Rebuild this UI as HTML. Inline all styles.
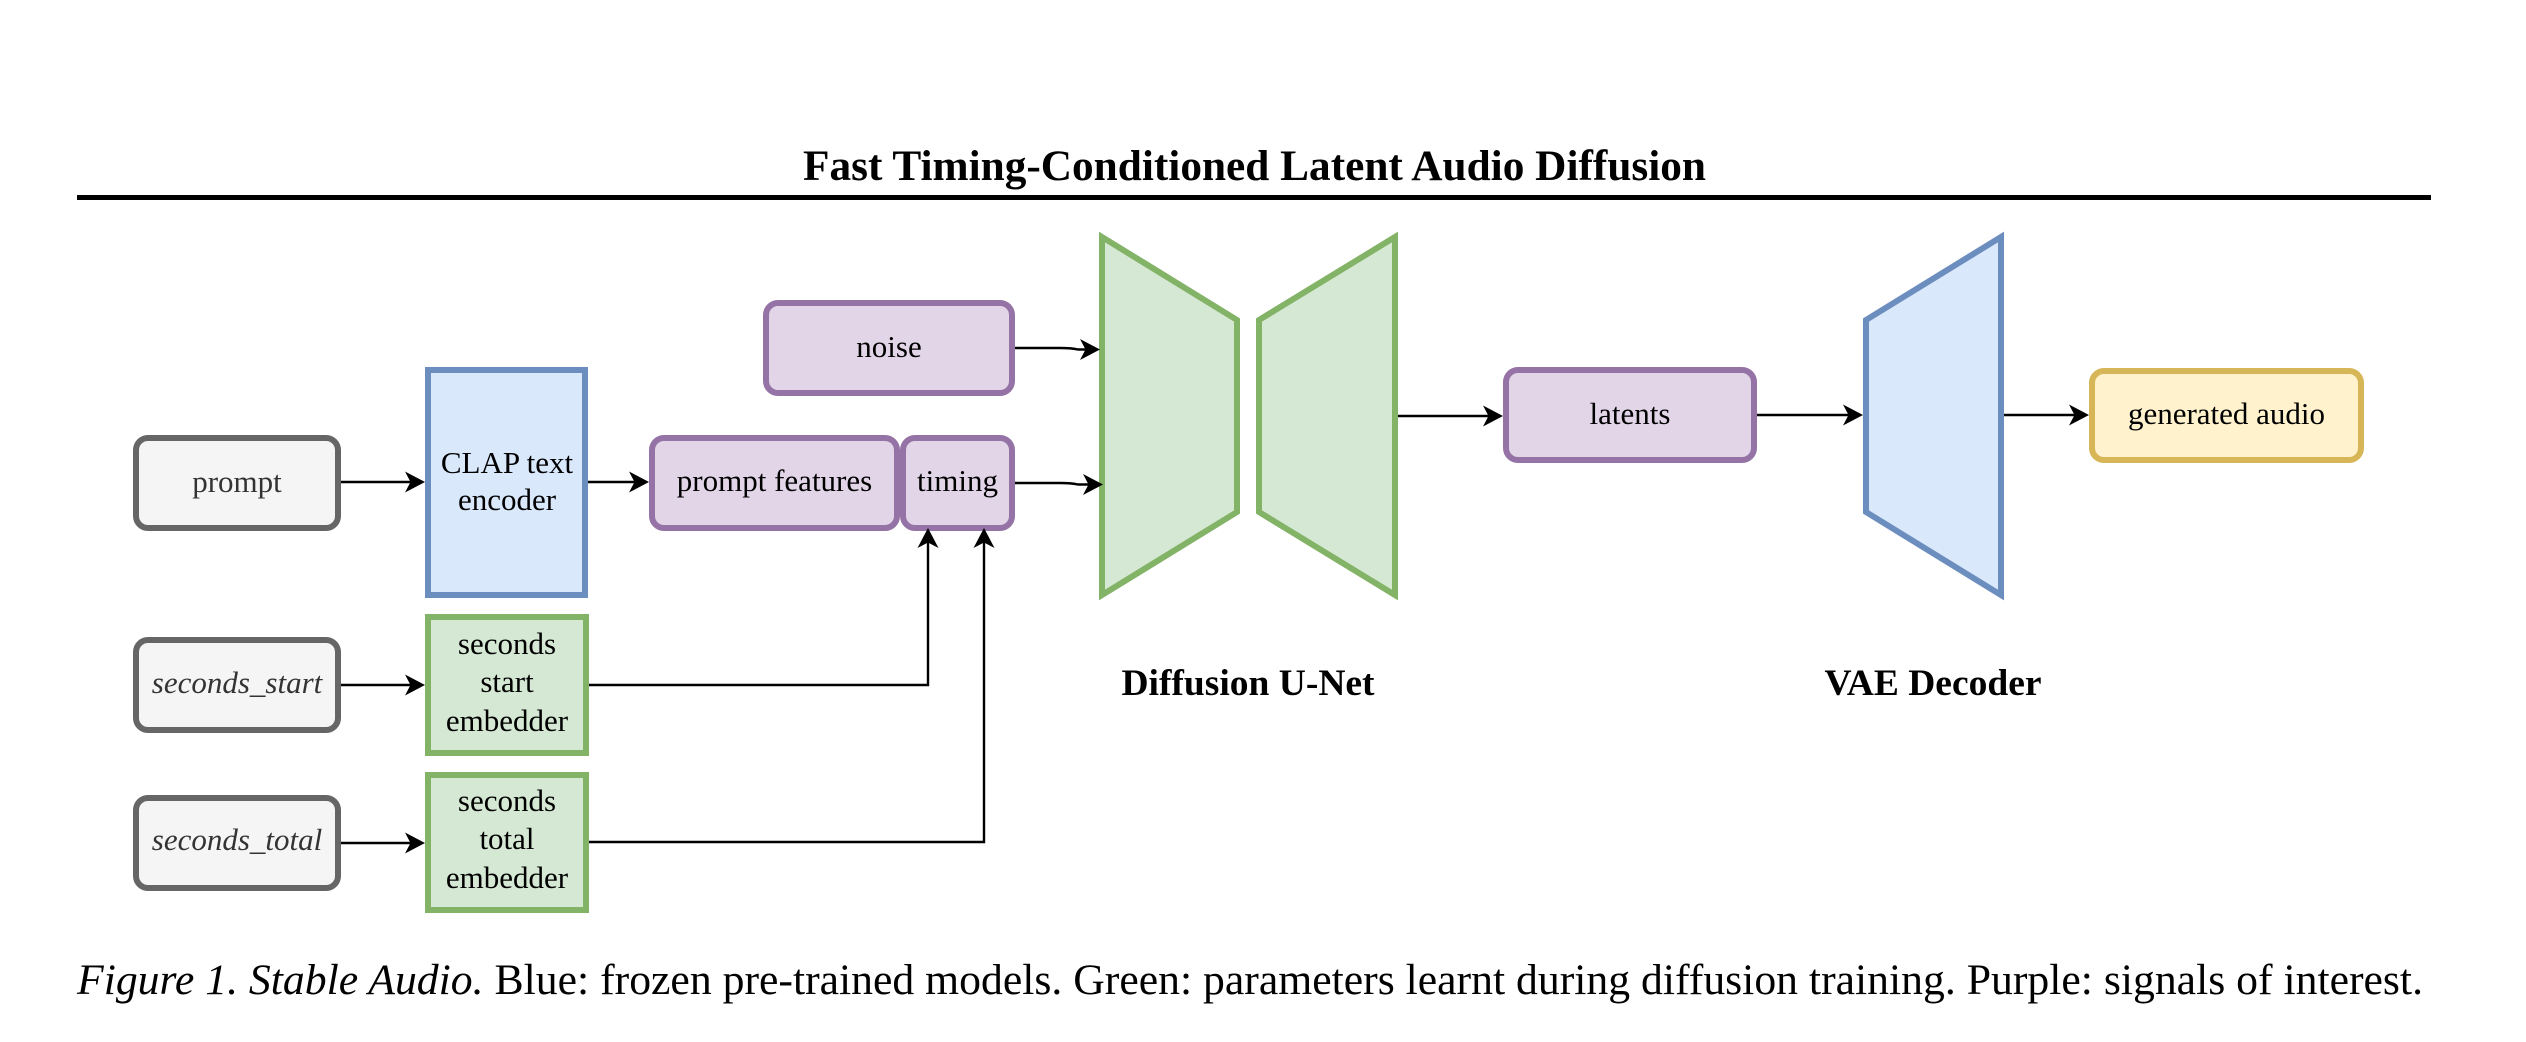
<!DOCTYPE html>
<html>
<head>
<meta charset="utf-8">
<style>
  html, body { margin: 0; padding: 0; background: #ffffff; }
  body { width: 2526px; height: 1042px; overflow: hidden; }
  svg { display: block; }
  text { font-family: "Liberation Serif", "Times New Roman", serif; }
  .lbl { font-size: 31px; fill: #000; }
  .gray { fill: #333333; }
  .ital { font-style: italic; }
  .bold { font-weight: bold; }
</style>
</head>
<body>
<svg width="2526" height="1042" viewBox="0 0 2526 1042" xmlns="http://www.w3.org/2000/svg" font-family="Liberation Serif, serif">
  <rect x="0" y="0" width="2526" height="1042" fill="#ffffff"/>

  <!-- Title -->
  <text x="803" y="180" class="lbl bold" font-family="Liberation Serif, serif" style="font-size:43px" textLength="903" lengthAdjust="spacingAndGlyphs">Fast Timing-Conditioned Latent Audio Diffusion</text>
  <rect x="77" y="195" width="2354" height="5" fill="#000"/>

  <!-- Input gray boxes -->
  <rect x="136" y="438" width="202" height="90" rx="12" ry="12" fill="#f5f5f5" stroke="#666666" stroke-width="6"/>
  <text x="237" y="492" class="lbl gray" font-family="Liberation Serif, serif" text-anchor="middle">prompt</text>

  <rect x="136" y="640" width="202" height="90" rx="12" ry="12" fill="#f5f5f5" stroke="#666666" stroke-width="6"/>
  <text x="237" y="693" class="lbl gray ital" font-family="Liberation Serif, serif" text-anchor="middle">seconds_start</text>

  <rect x="136" y="798" width="202" height="90" rx="12" ry="12" fill="#f5f5f5" stroke="#666666" stroke-width="6"/>
  <text x="237" y="850" class="lbl gray ital" font-family="Liberation Serif, serif" text-anchor="middle">seconds_total</text>

  <!-- CLAP text encoder -->
  <rect x="428" y="370" width="157" height="225" fill="#dae8fc" stroke="#6c8ebf" stroke-width="6"/>
  <text x="507" y="473" class="lbl" font-family="Liberation Serif, serif" text-anchor="middle">CLAP text</text>
  <text x="507" y="510" class="lbl" font-family="Liberation Serif, serif" text-anchor="middle">encoder</text>

  <!-- Embedders -->
  <rect x="428" y="617" width="158" height="136" fill="#d5e8d4" stroke="#82b366" stroke-width="6"/>
  <text x="507" y="654" class="lbl" font-family="Liberation Serif, serif" text-anchor="middle">seconds</text>
  <text x="507" y="692" class="lbl" font-family="Liberation Serif, serif" text-anchor="middle">start</text>
  <text x="507" y="731" class="lbl" font-family="Liberation Serif, serif" text-anchor="middle">embedder</text>

  <rect x="428" y="775" width="158" height="135" fill="#d5e8d4" stroke="#82b366" stroke-width="6"/>
  <text x="507" y="811" class="lbl" font-family="Liberation Serif, serif" text-anchor="middle">seconds</text>
  <text x="507" y="849" class="lbl" font-family="Liberation Serif, serif" text-anchor="middle">total</text>
  <text x="507" y="888" class="lbl" font-family="Liberation Serif, serif" text-anchor="middle">embedder</text>

  <!-- Purple signals -->
  <rect x="766" y="303" width="246" height="90" rx="12" ry="12" fill="#e1d5e7" stroke="#9673a6" stroke-width="6"/>
  <text x="889" y="357" class="lbl" font-family="Liberation Serif, serif" text-anchor="middle">noise</text>

  <rect x="652" y="438" width="245" height="90" rx="12" ry="12" fill="#e1d5e7" stroke="#9673a6" stroke-width="6"/>
  <text x="774.5" y="491" class="lbl" font-family="Liberation Serif, serif" text-anchor="middle">prompt features</text>

  <rect x="903" y="438" width="109" height="90" rx="12" ry="12" fill="#e1d5e7" stroke="#9673a6" stroke-width="6"/>
  <text x="957.5" y="491" class="lbl" font-family="Liberation Serif, serif" text-anchor="middle">timing</text>

  <rect x="1506" y="370" width="248" height="90" rx="12" ry="12" fill="#e1d5e7" stroke="#9673a6" stroke-width="6"/>
  <text x="1630" y="424" class="lbl" font-family="Liberation Serif, serif" text-anchor="middle">latents</text>

  <!-- Generated audio -->
  <rect x="2092" y="371" width="269" height="89" rx="12" ry="12" fill="#fff2cc" stroke="#d6b656" stroke-width="6"/>
  <text x="2226.5" y="424" class="lbl" font-family="Liberation Serif, serif" text-anchor="middle">generated audio</text>

  <!-- Diffusion U-Net trapezoids -->
  <polygon points="1102,237 1237,320 1237,512 1102,595" fill="#d5e8d4" stroke="#82b366" stroke-width="6" stroke-linejoin="miter"/>
  <polygon points="1259,320 1395,237 1395,595 1259,512" fill="#d5e8d4" stroke="#82b366" stroke-width="6" stroke-linejoin="miter"/>
  <text x="1248" y="695" class="lbl bold" font-family="Liberation Serif, serif" style="font-size:37.5px" text-anchor="middle">Diffusion U-Net</text>

  <!-- VAE decoder -->
  <polygon points="1866,320 2001,237 2001,595 1866,512" fill="#dae8fc" stroke="#6c8ebf" stroke-width="6" stroke-linejoin="miter"/>
  <text x="1933" y="695" class="lbl bold" font-family="Liberation Serif, serif" style="font-size:37.5px" text-anchor="middle">VAE Decoder</text>

  <!-- Connectors -->
  <g stroke="#000" stroke-width="2.4" fill="none">
    <line x1="341" y1="482" x2="412" y2="482"/>
    <line x1="588" y1="482" x2="636" y2="482"/>
    <path d="M1015 348 L1060 348 Q1072 348 1078 349.5 L1088 349.5"/>
    <path d="M1015 483 L1060 483 Q1072 483 1078 484.5 L1090 484.5"/>
    <line x1="1398" y1="416" x2="1490" y2="416"/>
    <line x1="1757" y1="415" x2="1850" y2="415"/>
    <line x1="2004" y1="415" x2="2076" y2="415"/>
    <line x1="341" y1="685" x2="412" y2="685"/>
    <line x1="341" y1="843" x2="412" y2="843"/>
    <path d="M589 685 H928 V542"/>
    <path d="M589 842 H984 V542"/>
  </g>

  <!-- Arrowheads -->
  <g fill="#000">
    <path d="M425 482 L405 471.5 L410.5 482 L405 492.5 Z"/>
    <path d="M649 482 L629 471.5 L634.5 482 L629 492.5 Z"/>
    <path d="M1100 349.5 L1080 339 L1085.5 349.5 L1080 360 Z"/>
    <path d="M1103 484.5 L1083 474 L1088.5 484.5 L1083 495 Z"/>
    <path d="M1503 416 L1483 405.5 L1488.5 416 L1483 426.5 Z"/>
    <path d="M1863 415 L1843 404.5 L1848.5 415 L1843 425.5 Z"/>
    <path d="M2089 415 L2069 404.5 L2074.5 415 L2069 425.5 Z"/>
    <path d="M425 685 L405 674.5 L410.5 685 L405 695.5 Z"/>
    <path d="M425 843 L405 832.5 L410.5 843 L405 853.5 Z"/>
    <path d="M928 528 L917.5 548 L928 542.5 L938.5 548 Z"/>
    <path d="M984 528 L973.5 548 L984 542.5 L994.5 548 Z"/>
  </g>

  <!-- Caption -->
  <text x="77" y="994" class="lbl" font-family="Liberation Serif, serif" style="font-size:43.6px" textLength="2346" lengthAdjust="spacingAndGlyphs"><tspan font-style="italic">Figure 1. Stable Audio.</tspan> Blue: frozen pre-trained models. Green: parameters learnt during diffusion training. Purple: signals of interest.</text>
</svg>
</body>
</html>
